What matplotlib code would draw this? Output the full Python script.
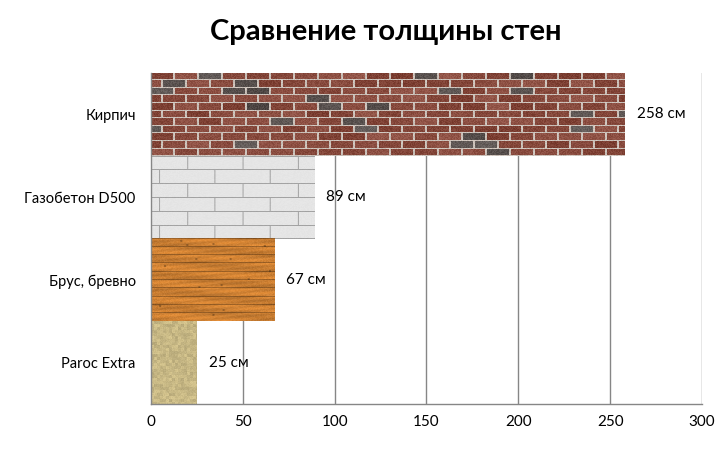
import numpy as np
import matplotlib
matplotlib.use("Agg")
import matplotlib.pyplot as plt

plt.rcParams["font.family"] = ["Lato", "DejaVu Sans"]

# Data
materials = ["Кирпич", "Газобетон D500", "Брус, бревно", "Paroc Extra"]
thickness = [258, 89, 67, 25]
textures = ["brick", "block", "wood", "wool"]
title = "Сравнение толщины стен"

rng = np.random.default_rng(7)


def _noise(h, w, amp):
    return (rng.random((h, w, 1)) - 0.5) * amp


def brick_tex(w, h):
    img = np.ones((h, w, 3)) * np.array([0.80, 0.76, 0.73])
    row_h, blen = 7.6, 24
    nrows = int(h / row_h) + 2
    for r in range(nrows):
        y0, y1 = int(r * row_h), int((r + 1) * row_h) - 1
        off = 12 if r % 2 else 0
        for k in range(-1, w // blen + 2):
            x0 = off + k * blen
            x1 = x0 + blen - 2
            if rng.random() < 0.10:
                c = np.array([0.30, 0.27, 0.26]) + rng.random() * 0.10
            else:
                c = np.array([0.53, 0.29, 0.24]) + (rng.random() - 0.5) * 0.10
            img[max(y0, 0):max(min(y1, h), 0), max(x0, 0):max(min(x1, w), 0)] = c
    img += _noise(h, w, 0.10)
    return np.clip(img, 0, 1)


def block_tex(w, h):
    img = np.ones((h, w, 3)) * 0.90
    row_h, blen = 13.8, 55
    for r in range(int(h / row_h) + 2):
        y = int(r * row_h)
        if y < h:
            img[y, :] = 0.64
        off = 0 if r % 2 else -27
        for k in range(-1, w // blen + 2):
            x = off + 8 + k * blen
            if 0 <= x < w:
                img[y:min(int((r + 1) * row_h), h), x] = 0.64
    img += _noise(h, w, 0.02)
    return np.clip(img, 0, 1)


def wood_tex(w, h):
    base = np.array([0.80, 0.50, 0.20])
    xs = np.arange(w)[None, :]
    ys = np.arange(h)[:, None]
    grain = 0.05 * np.sin(xs / 9.0 + ys * 1.3) + 0.06 * np.sin(xs / 23.0 - ys * 0.4)
    img = base[None, None, :] * (1 + grain[..., None])
    img += _noise(h, w, 0.06)
    plank = 8.3
    for r in range(int(h / plank) + 1):
        y = int(r * plank)
        if y < h:
            img[y, :] *= 0.72
    for _ in range(14):
        cy, cx = rng.integers(0, h), rng.integers(0, w)
        img[cy:cy + 2, cx:cx + 2] *= 0.75
    return np.clip(img, 0, 1)


def wool_tex(w, h):
    base = np.array([0.78, 0.72, 0.52])
    n = rng.random((h // 3 + 2, w // 3 + 2))
    n = np.kron(n, np.ones((3, 3)))[:h, :w]
    img = base[None, None, :] * (1 + (n[..., None] - 0.5) * 0.14)
    img += _noise(h, w, 0.05)
    return np.clip(img, 0, 1)


makers = {"brick": brick_tex, "block": block_tex, "wood": wood_tex, "wool": wool_tex}

fig = plt.figure(figsize=(7.28, 4.49), dpi=100)
ax = fig.add_axes([0.2074, 0.1002, 0.7569, 0.7372])

xmax = 300
ax_px_w = 0.7569 * 728
band_px = 0.7372 * 449 / len(materials)
pos = np.arange(len(materials))[::-1]

bars = ax.barh(pos, thickness, height=1.0, color="none", zorder=2)
for p, v, t in zip(pos, thickness, textures):
    w = max(int(round(v / xmax * ax_px_w)), 2)
    h = int(round(band_px))
    img = makers[t](w, h)
    ax.imshow(img, extent=(0, v, p - 0.5, p + 0.5), aspect="auto",
              interpolation="bilinear", zorder=2)
    ax.text(v + 6.5, p, f"{v} см", va="center", ha="left", fontsize=11, zorder=3)

ax.set_xlim(0, xmax)
ax.set_ylim(-0.5, len(materials) - 0.5)
ax.set_xticks(np.arange(0, xmax + 1, 50))
ax.set_yticks(pos)
ax.set_yticklabels(materials, fontsize=10.5)
ax.tick_params(axis="x", labelsize=11, length=0, pad=8)
ax.tick_params(axis="y", length=0, pad=11)
ax.grid(axis="x", color="#868686", linewidth=1.0, zorder=0)
ax.set_axisbelow(True)
for s in ["top", "right"]:
    ax.spines[s].set_visible(False)
for s in ["left", "bottom"]:
    ax.spines[s].set_color("#868686")
    ax.spines[s].set_linewidth(1.0)

fig.text(0.530, 0.928, title, ha="center", va="center", fontsize=21, fontweight="bold")

fig.savefig("out.png", dpi=100, facecolor="white")
